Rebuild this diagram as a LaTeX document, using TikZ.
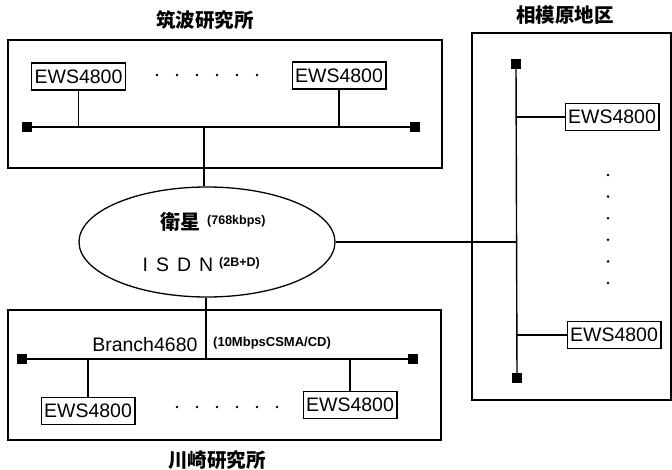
\documentclass[tikz,border=0pt]{standalone}
\usepackage{fontspec}
\setmainfont{Liberation Sans}
\newfontfamily\cjk{Noto Sans CJK JP}
\usetikzlibrary{shapes.geometric}
\tikzset{
  x=1pt, y=-1pt,
  line/.style={line width=1.4pt},
  frame/.style={line width=1.3pt},
  ews/.style={draw, line width=1.2pt, font=\fontsize{19.5}{19.5}\selectfont, inner xsep=3pt, inner ysep=0pt, minimum height=27pt},
  term/.style={fill=black, minimum size=9.5pt, inner sep=0pt},
  title/.style={font=\cjk\bfseries\fontsize{19.5}{19.5}\selectfont},
  small/.style={font=\fontsize{12.5}{12.5}\selectfont\bfseries, inner sep=0pt},
  dotted dot/.style={circle, fill=black, minimum size=2.8pt, inner sep=0pt},
}
\begin{document}
\begin{tikzpicture}
\useasboundingbox (0,0) rectangle (672,470);
% titles
\node[title] (t1) at (205,20) {筑波研究所};
\node[title] (t2) at (565,15) {相模原地区};
\node[title] (t3) at (217,460) {川崎研究所};
% frames
\draw[frame] (8,40) rectangle (442,168);
\draw[frame] (8,310) rectangle (441,440);
\draw[frame] (472,33) rectangle (671,400);
% top site
\node[term] (ta) at (27,127) {};
\node[term] (tb) at (415,127) {};
\draw[line] (ta) -- (tb);
\node[ews] (e1) at (78.5,76.5) {EWS4800};
\node[ews] (e2) at (339,75.5) {EWS4800};
\draw[line] (e1.south) -- (e1.south |- ta);
\draw[line] (e2.south) -- (e2.south |- tb);
\foreach \i in {0,...,5} \node[dotted dot] (d1\i) at (157+20*\i,75) {};
% ellipse
\node[draw, ellipse, line width=1.3pt, minimum width=256pt, minimum height=110pt] (sat) at (207,242) {};
\node (s1) at (180,222) {\cjk\bfseries\fontsize{20}{20}\selectfont 衛星};
\node[small, anchor=west] (s1b) at (207,221) {(768kbps)};
\node[font=\fontsize{19.5}{19.5}\selectfont] (s2) at (178,265) {I\hspace{8pt}S\hspace{8pt}D\hspace{8pt}N};
\node[small, anchor=west] (s2b) at (219,263) {(2B+D)};
\coordinate (ctop) at (204,127);
\draw[line] (ctop) -- (sat.north -| ctop);
% bottom site
\node[term] (ba) at (22,359) {};
\node[term] (bb) at (413,359) {};
\draw[line] (ba) -- (bb);
\coordinate (cbot) at (206,359);
\draw[line] (sat.south -| cbot) -- (cbot);
\node[font=\fontsize{19.5}{19.5}\selectfont, anchor=east] (br) at (201,345) {Branch4680};
\node[small, font=\fontsize{13}{13}\selectfont\bfseries, anchor=west] (csma) at (213,343) {(10MbpsCSMA/CD)};
\node[ews] (e3) at (88,411) {EWS4800};
\node[ews] (e4) at (350,405) {EWS4800};
\draw[line] (e3.north) -- (e3.north |- ba);
\draw[line] (e4.north) -- (e4.north |- bb);
\foreach \i in {0,...,5} \node[dotted dot] (d2\i) at (177+20*\i,407) {};
% right site
\node[term] (ra) at (516,64) {};
\node[term] (rb) at (517,378) {};
\draw[line] (ra) -- (rb);
\node[ews] (e5) at (612,117) {EWS4800};
\node[ews] (e6) at (614,335) {EWS4800};
\draw[line] (e5.west) -- (e5.west -| ra);
\draw[line] (e6.west) -- (e6.west -| ra);
\foreach \i in {0,...,5} \node[dotted dot] (d3\i) at (608,175+21.6*\i) {};
\draw[line] (sat.east) -- (sat.east -| ra);
\end{tikzpicture}
\end{document}
